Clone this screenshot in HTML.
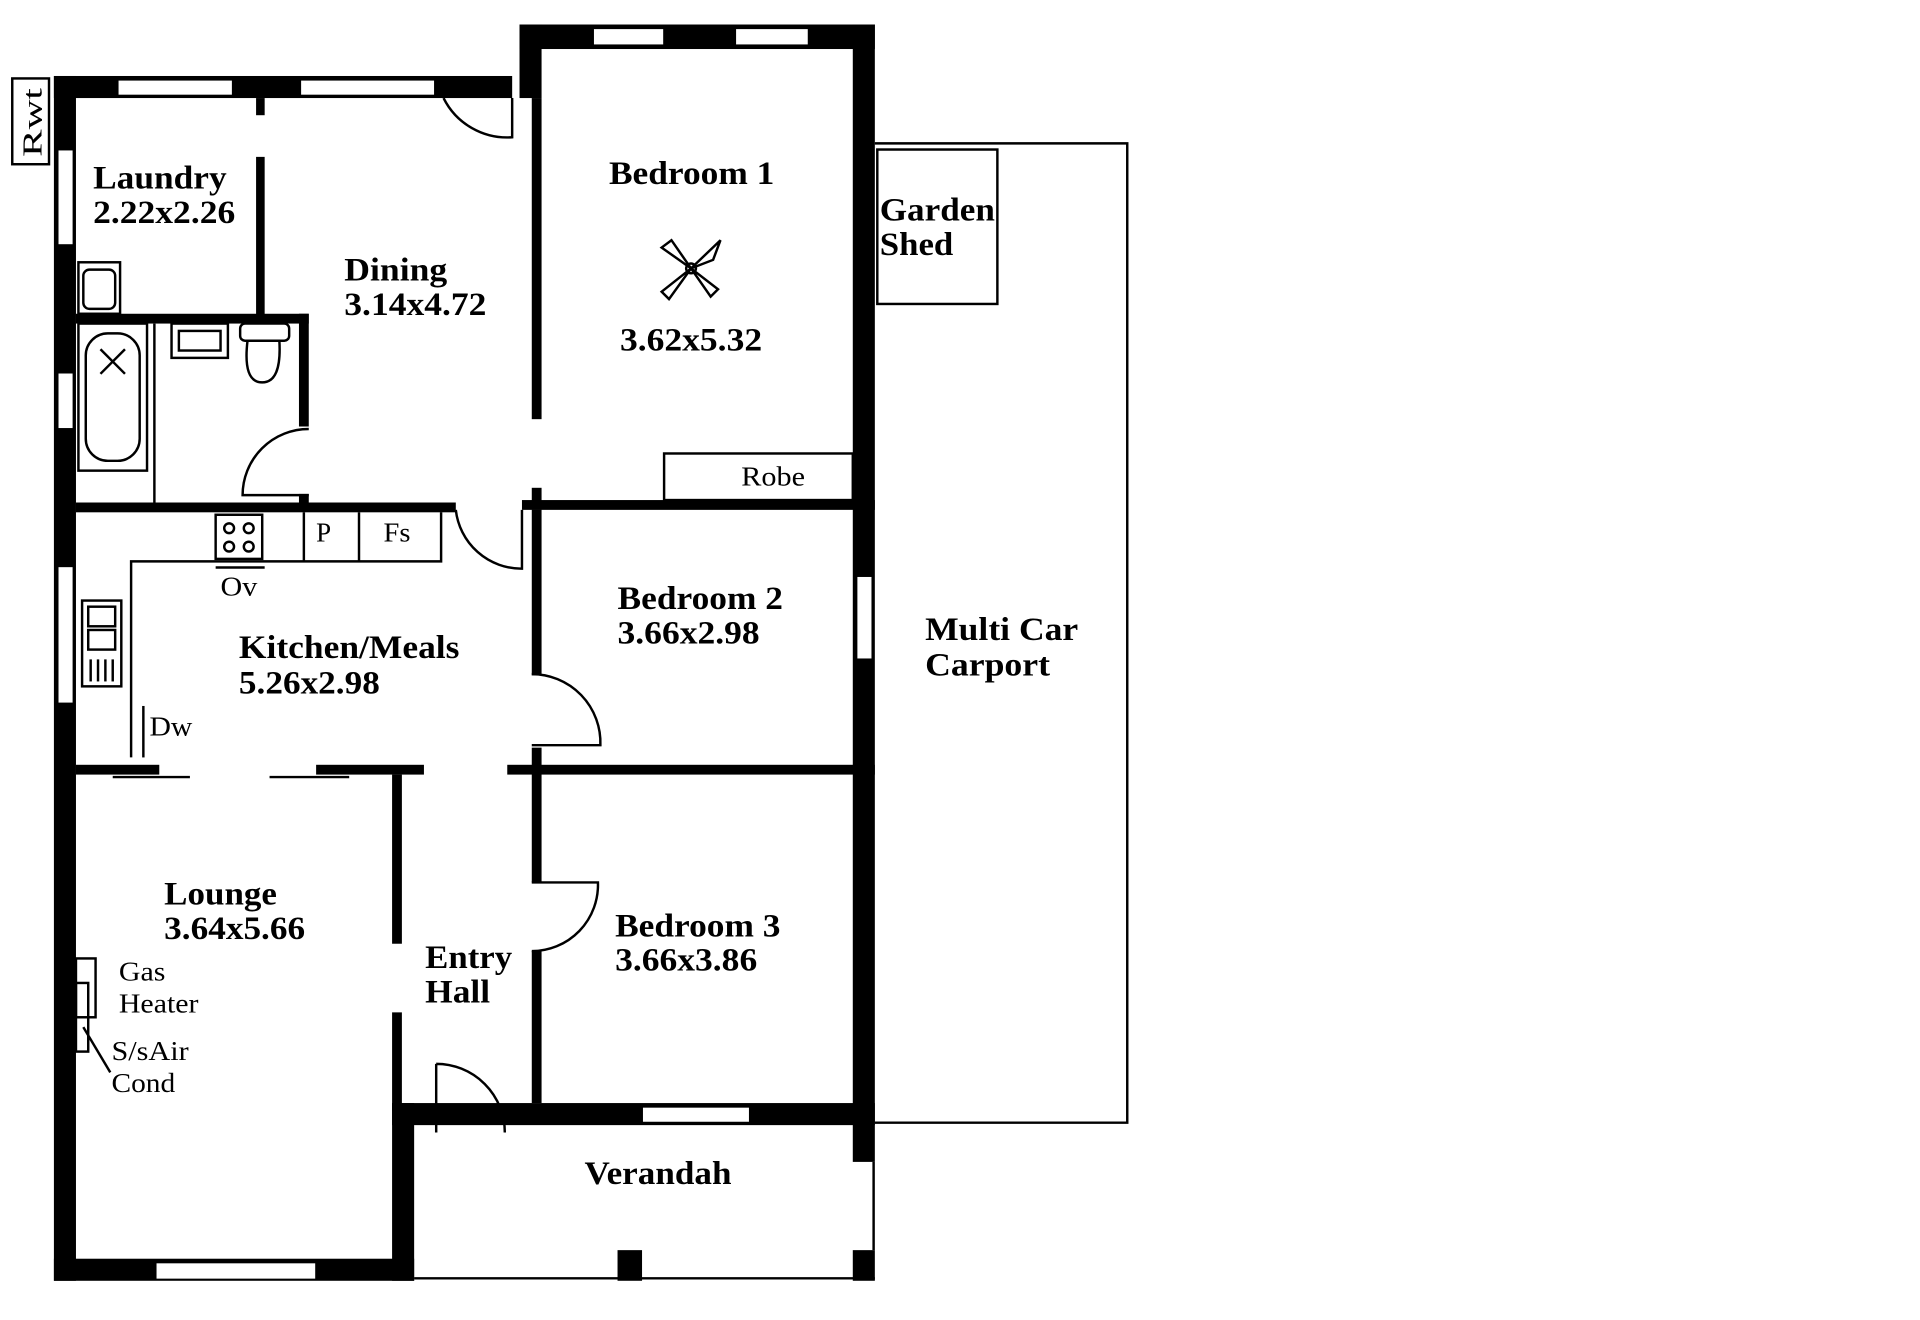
<!DOCTYPE html>
<html><head><meta charset="utf-8"><style>
html,body{margin:0;padding:0;background:#fff;}
svg{display:block;}
text{font-family:"Liberation Serif",serif;fill:#000;}
.b{font-weight:bold;font-size:27px;}
.n{font-size:22px;}
</style></head><body>
<svg width="1920" height="1320" viewBox="0 0 1567 1077" preserveAspectRatio="none" xmlns="http://www.w3.org/2000/svg">
<rect width="1567" height="1077" fill="#fff"/>
<g fill="#000">
<rect x="44" y="62" width="18" height="983"/>
<rect x="44" y="62" width="374" height="18"/>
<rect x="424" y="20" width="290" height="20"/>
<rect x="424" y="20" width="18" height="60"/>
<rect x="696" y="20" width="18" height="928"/>
<rect x="44" y="1027" width="294" height="18"/>
<rect x="320" y="900" width="18" height="145"/>
<rect x="320" y="900" width="394" height="18"/>
<rect x="504" y="1020" width="20" height="25"/>
<rect x="696" y="1020" width="18" height="25"/>
<rect x="209" y="80" width="7" height="14"/>
<rect x="209" y="128" width="7" height="130"/>
<rect x="62" y="256" width="190" height="8"/>
<rect x="244" y="256" width="8" height="92"/>
<rect x="244" y="403" width="8" height="12"/>
<rect x="62" y="410" width="310" height="8"/>
<rect x="426" y="408" width="288" height="8"/>
<rect x="434" y="80" width="8" height="262"/>
<rect x="434" y="398" width="8" height="18"/>
<rect x="434" y="416" width="8" height="135"/>
<rect x="434" y="610" width="8" height="110"/>
<rect x="434" y="776" width="8" height="124"/>
<rect x="414" y="624" width="300" height="8"/>
<rect x="62" y="624" width="68" height="8"/>
<rect x="258" y="624" width="88" height="8"/>
<rect x="320" y="632" width="8" height="138"/>
<rect x="320" y="826" width="8" height="80"/>
</g>
<g fill="#fff" stroke="#000" stroke-width="1.5">
<rect x="96" y="65" width="94" height="13"/>
<rect x="245" y="65" width="110" height="13"/>
<rect x="484" y="23" width="58" height="14"/>
<rect x="600" y="23" width="60" height="14"/>
<rect x="47" y="122" width="13" height="78"/>
<rect x="47" y="304" width="13" height="46"/>
<rect x="47" y="462" width="13" height="112"/>
<rect x="699" y="470" width="13" height="68"/>
<rect x="127" y="1030" width="131" height="14"/>
<rect x="524" y="903" width="88" height="13"/>
</g>
<g fill="none" stroke="#000" stroke-width="2">
<line x1="338" y1="1043" x2="714" y2="1043"/>
<line x1="713" y1="948" x2="713" y2="1020"/>
<polyline points="714,117 920,117 920,916 714,916"/>
<rect x="716" y="122" width="98" height="126"/>
<rect x="10" y="64" width="30" height="70"/>
<path d="M362 80 A58 58 0 0 0 418 112 L418 80"/>
<path d="M252 350 A54 54 0 0 0 198 404 L252 404"/>
<path d="M372 416 A54 54 0 0 0 426 464 L426 416"/>
<path d="M434 550 A56 56 0 0 1 490 608 L434 608"/>
<path d="M434 720 L488 720 A54 54 0 0 1 434 776"/>
<path d="M356 868 A56 56 0 0 1 412 924 M356 868 L356 924"/>
<rect x="542" y="370" width="154" height="38"/>
<polyline points="107,618 107,458 360,458 360,418"/>
<line x1="248" y1="418" x2="248" y2="458"/>
<line x1="293" y1="418" x2="293" y2="458"/>
<rect x="176" y="420" width="38" height="36"/>
<circle cx="187" cy="431" r="4"/><circle cx="203" cy="431" r="4"/>
<circle cx="187" cy="446" r="4"/><circle cx="203" cy="446" r="4"/>
<line x1="176" y1="463" x2="216" y2="463"/>
<line x1="117" y1="576" x2="117" y2="618"/>
<rect x="67" y="490" width="32" height="70"/>
<rect x="72" y="495" width="22" height="16"/><rect x="72" y="514" width="22" height="16"/>
<line x1="74" y1="538" x2="74" y2="556"/><line x1="80" y1="538" x2="80" y2="556"/><line x1="86" y1="538" x2="86" y2="556"/><line x1="92" y1="538" x2="92" y2="556"/>
<line x1="92" y1="634" x2="155" y2="634"/>
<line x1="220" y1="634" x2="285" y2="634"/>
<rect x="64" y="214" width="34" height="42"/><rect x="68" y="220" width="26" height="32" rx="5"/>
<rect x="64" y="264" width="56" height="120"/>
<rect x="70" y="272" width="44" height="104" rx="18"/>
<line x1="82" y1="285" x2="102" y2="305"/><line x1="102" y1="285" x2="82" y2="305"/>
<line x1="126" y1="264" x2="126" y2="410"/>
<rect x="140" y="264" width="46" height="28"/><rect x="146" y="270" width="34" height="16"/>
<rect x="196" y="264" width="40" height="14" rx="4"/>
<path d="M202 278 Q198 312 214 312 Q230 312 228 278"/>
<rect x="62" y="782" width="16" height="48"/>
<rect x="62" y="802" width="10" height="56"/>
<line x1="68" y1="838" x2="90" y2="875"/>
<path d="M564 219 L548 196 L540 202 Z M564 219 L588 196 L582 212 Z M564 219 L580 242 L586 236 Z M564 219 L540 238 L546 244 Z"/>
<circle cx="564" cy="219" r="4"/>
</g>
<text class="n" transform="translate(34 128) rotate(-90)" textLength="56" lengthAdjust="spacingAndGlyphs">Rwt</text>
<text class="b" x="76" y="154" textLength="109" lengthAdjust="spacingAndGlyphs">Laundry</text><text class="b" x="76" y="182" textLength="116" lengthAdjust="spacingAndGlyphs">2.22x2.26</text>
<text class="b" x="281" y="229" textLength="84" lengthAdjust="spacingAndGlyphs">Dining</text><text class="b" x="281" y="257" textLength="116" lengthAdjust="spacingAndGlyphs">3.14x4.72</text>
<text class="b" x="497" y="150" textLength="135" lengthAdjust="spacingAndGlyphs">Bedroom 1</text><text class="b" x="506" y="286" textLength="116" lengthAdjust="spacingAndGlyphs">3.62x5.32</text>
<text class="n" x="605" y="396" textLength="52" lengthAdjust="spacingAndGlyphs">Robe</text>
<text class="b" x="718" y="180" textLength="94" lengthAdjust="spacingAndGlyphs">Garden</text><text class="b" x="718" y="208" textLength="60" lengthAdjust="spacingAndGlyphs">Shed</text>
<text class="n" x="258" y="442">P</text><text class="n" x="313" y="442" textLength="22" lengthAdjust="spacingAndGlyphs">Fs</text>
<text class="n" x="180" y="486" textLength="30" lengthAdjust="spacingAndGlyphs">Ov</text>
<text class="n" x="122" y="600" textLength="35" lengthAdjust="spacingAndGlyphs">Dw</text>
<text class="b" x="195" y="537" textLength="180" lengthAdjust="spacingAndGlyphs">Kitchen/Meals</text><text class="b" x="195" y="566" textLength="115" lengthAdjust="spacingAndGlyphs">5.26x2.98</text>
<text class="b" x="504" y="497" textLength="135" lengthAdjust="spacingAndGlyphs">Bedroom 2</text><text class="b" x="504" y="525" textLength="116" lengthAdjust="spacingAndGlyphs">3.66x2.98</text>
<text class="b" x="755" y="522" textLength="125" lengthAdjust="spacingAndGlyphs">Multi Car</text><text class="b" x="755" y="551" textLength="102" lengthAdjust="spacingAndGlyphs">Carport</text>
<text class="b" x="134" y="738" textLength="92" lengthAdjust="spacingAndGlyphs">Lounge</text><text class="b" x="134" y="766" textLength="115" lengthAdjust="spacingAndGlyphs">3.64x5.66</text>
<text class="n" x="97" y="800" textLength="38" lengthAdjust="spacingAndGlyphs">Gas</text><text class="n" x="97" y="826" textLength="65" lengthAdjust="spacingAndGlyphs">Heater</text>
<text class="n" x="91" y="865" textLength="63" lengthAdjust="spacingAndGlyphs">S/sAir</text><text class="n" x="91" y="891" textLength="52" lengthAdjust="spacingAndGlyphs">Cond</text>
<text class="b" x="347" y="790" textLength="71" lengthAdjust="spacingAndGlyphs">Entry</text><text class="b" x="347" y="818" textLength="53" lengthAdjust="spacingAndGlyphs">Hall</text>
<text class="b" x="502" y="764" textLength="135" lengthAdjust="spacingAndGlyphs">Bedroom 3</text><text class="b" x="502" y="792" textLength="116" lengthAdjust="spacingAndGlyphs">3.66x3.86</text>
<text class="b" x="477" y="966" textLength="120" lengthAdjust="spacingAndGlyphs">Verandah</text>
</svg>
</body></html>
